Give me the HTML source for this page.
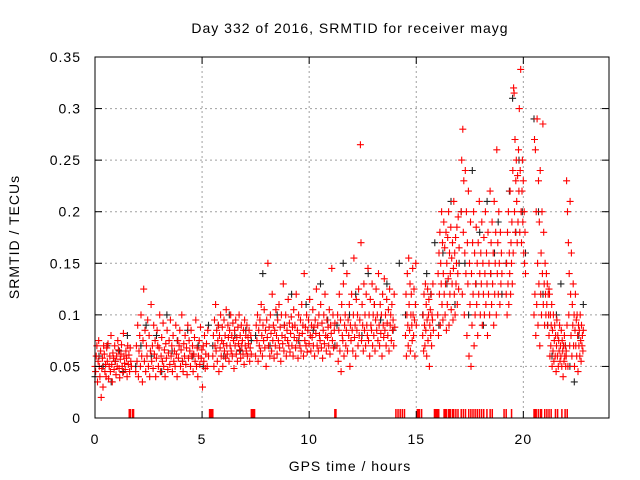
<!DOCTYPE html>
<html><head><meta charset="utf-8"><style>
html,body{margin:0;padding:0;background:#fff;}
svg{display:block;font-family:"Liberation Sans",sans-serif;}
text{letter-spacing:1px;}
</style></head><body>
<svg id="chart" width="640" height="480" viewBox="0 0 640 480">
<rect width="640" height="480" fill="#fff"/>
<text x="350" y="33" font-size="14" text-anchor="middle">Day 332 of 2016, SRMTID for receiver mayg</text>
<text x="350" y="471" font-size="14" text-anchor="middle">GPS time / hours</text>
<text transform="translate(19,237) rotate(-90)" font-size="14" text-anchor="middle">SRMTID / TECUs</text>
<g id="grid"></g>
<g id="black"></g>
<g id="red"></g>
<g id="gaps"></g>
<rect x="95" y="57" width="514" height="361" fill="none" stroke="#000" stroke-width="1"/>
<g id="ticks"></g>
</svg>
<script>
const xTicks=[0,5,10,15,20];
const yTicks=[0,0.05,0.1,0.15,0.2,0.25,0.3,0.35];
const yTickLabels=["0","0.05","0.1","0.15","0.2","0.25","0.3","0.35"];
const redSegStarts=[0,1.9,5.5,7.5,11.3,14.5,15.3,16.0,17.1,19.2,20.5,21.2,22.0];
const redSegEnds=[1.7,5.3,7.3,11.2,14.0,15.0,15.8,17.0,19.0,20.1,21.2,22.0,22.8];
const redVals=[
[.05,.045,.06,.07,.035,.055,.075,.05,.04,.065,.02,.048,.058,.03,.07,.062,.045,.052,.04,.068,.055,.072,.038,.05,.06,.045,.08,.052,.035,.063,.058,.047,.07,.055,.042,.06,.05,.075,.066,.048,.039,.057,.062,.071,.05,.044,.082,.06,.053,.047,.065,.058,.04,.07,.052,.061,.045,.068,.055,.05],
[.045,.07,.055,.09,.04,.065,.08,.05,.1,.06,.035,.075,.125,.055,.085,.045,.07,.06,.095,.05,.08,.04,.065,.11,.055,.07,.048,.09,.062,.075,.04,.058,.085,.07,.05,.068,.1,.045,.06,.078,.055,.092,.05,.066,.04,.072,.058,.085,.047,.063,.075,.052,.095,.06,.07,.045,.08,.055,.065,.05,.09,.062,.04,.075,.058,.07,.085,.05,.066,.1,.055,.045,.072,.06,.08,.052,.068,.042,.09,.058,.075,.065,.05,.085,.06,.07,.045,.062,.078,.055,.095,.05,.068,.04,.06,.075,.052,.088,.058,.066,.03,.07,.055,.08,.048,.062,.072,.05,.085,.06],
[.06,.08,.05,.095,.07,.11,.065,.085,.055,.075,.09,.045,.08,.068,.1,.06,.075,.088,.05,.072,.095,.065,.08,.058,.105,.07,.062,.09,.078,.055,.085,.07,.1,.065,.08,.06,.092,.075,.048,.085,.07,.095,.062,.078,.055,.088,.072,.1,.066,.08,.058,.09,.07,.075,.062,.085,.052,.095,.07,.08,.065,.09,.06,.078,.072,.085,.055,.068,.08,.062],
[.06,.09,.075,.1,.055,.085,.07,.095,.065,.11,.08,.06,.09,.075,.105,.068,.085,.05,.095,.078,.15,.07,.088,.06,.1,.082,.065,.12,.075,.09,.058,.085,.07,.105,.08,.062,.095,.075,.11,.068,.088,.055,.1,.08,.072,.13,.065,.09,.078,.1,.06,.085,.075,.115,.07,.092,.064,.082,.098,.07,.088,.06,.105,.078,.09,.068,.12,.075,.085,.058,.1,.08,.07,.095,.065,.11,.082,.09,.06,.14,.075,.088,.07,.1,.064,.085,.095,.072,.115,.08,.065,.09,.078,.105,.07,.088,.06,.095,.082,.125,.07,.09,.065,.1,.08,.075,.11,.068,.092,.058,.085,.1,.072,.12,.08,.065,.095,.078,.088,.07,.105,.062,.09,.082,.145,.075,.1,.068,.085,.092],
[.07,.1,.055,.085,.12,.065,.095,.045,.11,.08,.075,.13,.06,.09,.1,.07,.085,.14,.065,.095,.08,.11,.05,.09,.075,.12,.085,.065,.1,.155,.078,.09,.06,.115,.085,.1,.07,.125,.08,.095,.265,.17,.075,.11,.09,.065,.13,.085,.1,.07,.12,.09,.08,.145,.075,.1,.06,.115,.09,.085,.13,.07,.1,.08,.11,.065,.095,.125,.085,.1,.075,.14,.09,.07,.11,.082,.1,.06,.12,.09,.078,.135,.085,.1,.07,.115,.092,.08,.105,.065,.125,.09,.1,.075,.11,.085,.095,.07,.12,.088],
[.08,.12,.06,.1,.14,.09,.07,.155,.11,.085,.13,.065,.1,.12,.09,.075,.145,.1,.08,.125,.095,.06,.11,.15,.09],
[.08,.1,.065,.12,.09,.07,.13,.085,.11,.06,.095,.125,.075,.1,.115,.05,.09,.105,.08,.12,.07,.1,.095,.13,.085],
[.1,.14,.08,.16,.12,.18,.09,.15,.13,.2,.11,.17,.095,.14,.19,.12,.165,.1,.13,.18,.085,.15,.11,.175,.135,.2,.09,.16,.12,.14,.185,.105,.155,.13,.17,.095,.145,.21,.12,.16,.1,.175,.13,.15,.185,.11,.14,.195,.125,.165],
[.2,.25,.12,.28,.18,.23,.1,.16,.24,.14,.2,.08,.17,.13,.22,.06,.15,.11,.19,.05,.14,.09,.17,.12,.2,.07,.16,.1,.13,.185,.11,.15,.08,.17,.12,.21,.14,.1,.16,.13,.19,.09,.15,.12,.175,.1,.14,.2,.11,.16,.13,.08,.18,.12,.15,.1,.22,.14,.17,.11,.19,.13,.16,.09,.21,.12,.15,.18,.1,.26,.14,.17,.12,.2,.15,.11,.18,.13,.16,.14],
[.12,.15,.1,.18,.13,.2,.11,.16,.14,.22,.12,.17,.15,.19,.13,.24,.16,.32,.315,.2,.27,.18,.23,.25,.21,.17,.235,.19,.26,.22,.3,.18,.24,.338,.2,.17,.22,.25,.19,.23,.16,.2,.15,.18,.14],
[.1,.27,.12,.26,.08,.2,.11,.29,.15,.09,.23,.13,.19,.07,.24,.12,.16,.1,.2,.14,.285,.11,.18,.13,.09,.15,.12,.1,.14,.11,.13,.09,.12,.1,.125],
[.08,.12,.06,.1,.07,.09,.11,.05,.085,.065,.1,.055,.075,.09,.06,.08,.045,.07,.095,.06,.08,.05,.075,.065,.09,.055,.07,.06,.085,.05,.075,.065,.04,.07,.055,.08,.06,.07,.05,.065],
[.06,.23,.09,.2,.05,.17,.1,.14,.07,.21,.12,.08,.16,.06,.11,.09,.13,.07,.1,.05,.085,.12,.07,.095,.06,.1,.08,.045,.09,.07,.085,.06,.1,.075,.055,.09,.07,.08,.065,.085]
];
const blackSegStarts=[0,1.9,5.5,7.5,11.3,15.3,17.1,19.2,20.5];
const blackSegEnds=[1.7,5.3,7.3,11.2,14.5,17.0,19.0,20.1,22.8];
const blackVals=[
[.04,.06,.05,.07,.035,.055,.065,.045,.08,.05],
[.05,.07,.09,.06,.08,.045,.1,.065,.075,.055,.085,.06,.07,.05,.09],
[.07,.09,.06,.1,.08,.065,.085,.075],
[.08,.14,.07,.1,.09,.12,.075,.11,.085,.13,.095,.07],
[.09,.15,.1,.12,.08,.14,.11,.095,.13,.085,.15,.1],
[.1,.14,.12,.17,.09,.16,.13,.21,.11,.15],
[.2,.15,.1,.24,.13,.18,.09,.21,.14,.16,.19,.12],
[.15,.22,.31,.18,.25,.2,.16],
[.29,.2,.12,.09,.06,.1,.13,.07,.05,.035,.08,.11]
];
const gapHours=[1.6,1.65,1.75,1.8,5.35,5.4,5.45,5.5,7.3,7.35,7.4,7.45,11.2,11.25,14.05,14.15,14.25,14.35,14.45,15.05,15.1,15.15,15.25,15.85,15.9,15.95,16.0,16.05,16.3,16.35,16.4,16.5,16.55,16.6,16.7,16.75,16.85,16.95,17.1,17.2,17.3,17.45,17.55,17.65,17.75,17.85,17.95,18.05,18.15,18.3,18.45,18.55,19.1,19.2,19.45,20.5,20.55,20.6,20.7,20.8,20.85,21.0,21.1,21.2,21.3,21.5,21.6,21.8,21.95,22.05];

const X0=95,X1=609,Y0=418,Y1=57,XMAX=24,YMAX=0.35;
function xs(h){return X0+(X1-X0)*h/XMAX;}
function ys(v){return Y0-(Y0-Y1)*v/YMAX;}
const NS="http://www.w3.org/2000/svg";
function mk(tag,attrs,parent){const e=document.createElementNS(NS,tag);for(const k in attrs)e.setAttribute(k,attrs[k]);parent.appendChild(e);return e;}
const grid=document.getElementById('grid'),ticks=document.getElementById('ticks');
xTicks.forEach(t=>{
  const x=xs(t);
  if(t>0){const g=mk('line',{x1:x,y1:Y0,x2:x,y2:Y1,stroke:'#a0a0a0','stroke-dasharray':'2,3'},grid);
  
  }
  mk('line',{x1:x,y1:Y0,x2:x,y2:Y0-7,stroke:'#000'},ticks);
  mk('line',{x1:x,y1:Y1,x2:x,y2:Y1+7,stroke:'#000'},ticks);
  const l=mk('text',{x:x,y:444,'font-size':14,'text-anchor':'middle'},ticks);l.textContent=t;
  
  
});
yTicks.forEach((t,i)=>{
  const y=ys(t);
  if(t>0&&t<YMAX){const g=mk('line',{x1:X0,y1:y,x2:X1,y2:y,stroke:'#a0a0a0','stroke-dasharray':'2,3'},grid);
  
  }
  mk('line',{x1:X0,y1:y,x2:X0+7,y2:y,stroke:'#000'},ticks);
  mk('line',{x1:X1,y1:y,x2:X1-7,y2:y,stroke:'#000'},ticks);
  const l=mk('text',{x:81,y:y+5,'font-size':14,'text-anchor':'end'},ticks);l.textContent=yTickLabels[i];
  
  
});
function drawSeries(gid,starts,ends,vals,color){
  const g=document.getElementById(gid);let d='';
  vals.forEach((arr,s)=>{
    const n=arr.length;
    arr.forEach((v,i)=>{
      const h=starts[s]+(ends[s]-starts[s])*(n>1?i/(n-1):0);
      const x=xs(h),y=ys(v);
      d+=`M${(x-3.5).toFixed(1)},${y.toFixed(1)}h7M${x.toFixed(1)},${(y-3.5).toFixed(1)}v7`;
    });
  });
  const p=mk('path',{d:d,stroke:color,'stroke-width':1.1,fill:'none'},g);
  
  
}
drawSeries('black',blackSegStarts,blackSegEnds,blackVals,'#222');
drawSeries('red',redSegStarts,redSegEnds,redVals,'#ff0000');
const gaps=document.getElementById('gaps');
gapHours.forEach(h=>{
  const r=mk('rect',{x:xs(h)-0.75,y:Y0-9,width:1.5,height:9,fill:'#ff0000'},gaps);
  
  
});
</script>
</body></html>
